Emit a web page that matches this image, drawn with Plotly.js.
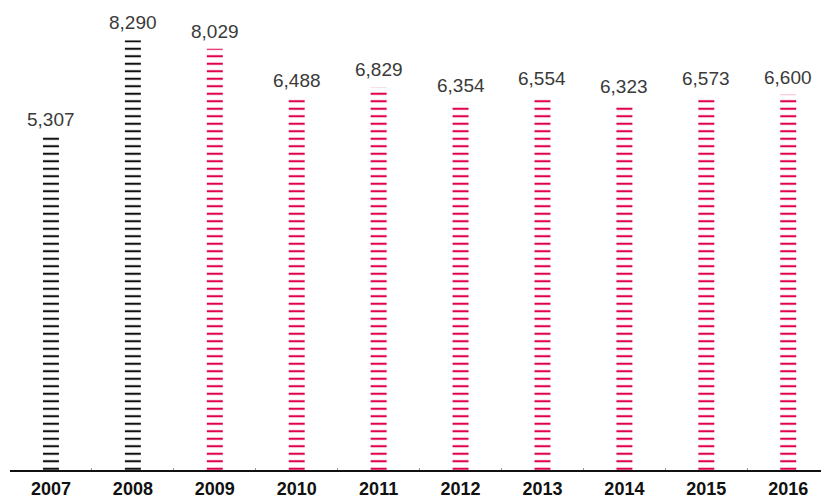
<!DOCTYPE html>
<html>
<head>
<meta charset="utf-8">
<script src="https://cdn.plot.ly/plotly-3.0.1.min.js"></script>
<style>html,body{margin:0;padding:0;background:#fff;}#chart{width:821px;height:501px;}</style>
</head>
<body>
<div id="chart"></div>
<script>
const years = ['2007','2008','2009','2010','2011','2012','2013','2014','2015','2016'];
const values = [5307, 8290, 8029, 6488, 6829, 6354, 6554, 6323, 6573, 6600];
const labels = ['5,307','8,290','8,029','6,488','6,829','6,354','6,554','6,323','6,573','6,600'];
const seriesGroup = ['black','black','red','red','red','red','red','red','red','red'];

const palette = {black: '#111111', red: '#E0004D'};
const axisFloor = -5000;

const trace = {
  type: 'bar',
  x: years,
  y: values.map(v => v - axisFloor),
  base: axisFloor,
  width: 0.195,
  marker: {
    color: 'rgba(255,255,255,0)',
    line: {width: 0},
    pattern: {
      shape: '-',
      fgcolor: seriesGroup.map(g => palette[g]),
      bgcolor: 'rgba(255,255,255,0)',
      size: 7.5,
      solidity: 0.28,
      fillmode: 'replace'
    }
  },
  hoverinfo: 'skip'
};

// category axis: annotations placed by category index
const annotations = years.map((yr, i) => ({
  x: i, y: values[i], xref: 'x', yref: 'y',
  text: labels[i], showarrow: false,
  xanchor: 'center', yanchor: 'bottom', yshift: 5,
  font: {family: 'Liberation Sans, Arial, sans-serif', size: 19, color: '#3a3a3a'}
}));

const layout = {
  width: 821, height: 501,
  margin: {l: 10, r: 0, t: 0, b: 31},
  paper_bgcolor: '#ffffff', plot_bgcolor: '#ffffff',
  showlegend: false,
  annotations: annotations,
  xaxis: {
    type: 'category',
    range: [-0.5, 9.4],
    showgrid: false, zeroline: false,
    showline: true, linecolor: '#111111', linewidth: 1.5,
    ticks: 'inside', tickson: 'boundaries', ticklen: 2, tickcolor: '#999999', tickwidth: 1,
    ticklabelstandoff: 2,
    tickfont: {family: 'Liberation Sans, Arial, sans-serif', size: 18, color: '#111111', weight: 'bold'},
    fixedrange: true
  },
  yaxis: {
    range: [axisFloor, 9533],
    visible: false, showgrid: false, zeroline: false, fixedrange: true
  }
};

Plotly.newPlot('chart', [trace], layout, {displayModeBar: false, staticPlot: true});
</script>
</body>
</html>
